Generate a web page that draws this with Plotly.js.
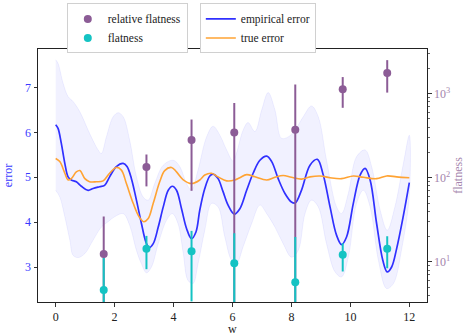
<!DOCTYPE html>
<html>
<head>
<meta charset="utf-8">
<script src="https://cdn.plot.ly/plotly-3.0.1.min.js"></script>
<style>html,body{margin:0;padding:0;background:#fff;}#chart{width:465px;height:334px;}</style>
</head>
<body>
<div id="chart"></div>
<script>
// empirical error (blue line)
const empX = [0, 0.08, 0.19, 0.31, 0.42, 0.53, 0.70, 0.87, 1.10, 1.27, 1.49, 1.66, 1.83, 2.06, 2.29, 2.42, 2.57, 2.74, 2.91, 3.06, 3.17, 3.31, 3.48, 3.65, 3.82, 3.96, 4.10, 4.27, 4.44, 4.61, 4.76, 4.89, 5.06, 5.23, 5.34, 5.51, 5.68, 5.85, 6.06, 6.25, 6.48, 6.70, 6.93, 7.16, 7.33, 7.55, 7.78, 8.00, 8.13, 8.34, 8.63, 8.88, 9.08, 9.31, 9.53, 9.70, 9.87, 10.10, 10.33, 10.50, 10.67, 10.89, 11.10, 11.25, 11.40, 11.57, 11.80, 12.0];
const empY = [6.17, 6.09, 5.76, 5.31, 5.01, 4.94, 4.90, 4.80, 4.71, 4.75, 4.79, 4.82, 5.01, 5.24, 5.31, 5.24, 4.97, 4.49, 3.97, 3.56, 3.43, 3.52, 3.89, 4.34, 4.71, 4.80, 4.71, 4.30, 3.86, 3.63, 3.78, 4.27, 4.75, 5.03, 5.07, 4.97, 4.68, 4.38, 4.18, 4.30, 4.71, 5.09, 5.38, 5.47, 5.35, 4.97, 4.64, 4.45, 4.43, 4.71, 5.27, 5.40, 5.05, 4.34, 3.71, 3.50, 3.67, 4.42, 5.05, 5.20, 4.94, 3.97, 3.15, 2.89, 3.00, 3.41, 4.15, 4.88];

// true error (orange line)
const trueX = [0, 0.14, 0.31, 0.42, 0.53, 0.70, 0.82, 0.99, 1.15, 1.38, 1.61, 1.83, 2.06, 2.23, 2.40, 2.63, 2.83, 2.99, 3.14, 3.31, 3.53, 3.70, 3.93, 4.10, 4.32, 4.61, 4.89, 5.06, 5.29, 5.51, 5.80, 6.08, 6.25, 6.48, 6.76, 7.16, 7.44, 7.72, 8.00, 8.34, 8.63, 8.97, 9.31, 9.70, 10.10, 10.44, 10.89, 11.23, 11.57, 12.0];
const trueY = [5.42, 5.35, 5.09, 4.94, 4.97, 5.12, 5.15, 4.97, 4.90, 4.90, 4.92, 5.09, 5.22, 5.16, 4.86, 4.42, 4.12, 4.01, 4.08, 4.42, 4.90, 5.15, 5.22, 5.12, 4.95, 4.86, 4.94, 5.05, 5.09, 5.01, 4.92, 4.94, 4.99, 5.06, 5.01, 4.94, 5.00, 5.04, 5.00, 4.96, 5.01, 5.03, 4.99, 4.97, 5.03, 5.00, 4.97, 5.03, 5.01, 4.99];

// shaded band around empirical error
const bandUpX = [0.0, 0.08, 0.25, 0.42, 0.59, 0.82, 1.15, 1.44, 1.55, 1.72, 1.95, 2.12, 2.29, 2.51, 2.74, 2.97, 3.14, 3.36, 3.65, 3.99, 4.21, 4.44, 4.61, 4.83, 5.12, 5.34, 5.57, 5.80, 6.02, 6.14, 6.36, 6.53, 6.76, 6.99, 7.21, 7.44, 7.66, 7.89, 8.12, 8.40, 8.68, 8.91, 9.19, 9.53, 9.70, 9.93, 10.21, 10.50, 10.72, 11.01, 11.25, 11.51, 11.80, 12.0];
const bandUpY = [7.62, 7.54, 7.10, 6.80, 6.69, 6.46, 5.98, 5.61, 5.53, 5.90, 6.35, 6.44, 6.35, 5.83, 5.01, 4.56, 4.49, 4.86, 5.27, 5.38, 5.24, 4.86, 4.71, 5.16, 5.90, 6.14, 5.94, 5.61, 5.36, 5.55, 6.05, 6.22, 6.02, 6.50, 6.89, 6.50, 5.87, 5.90, 6.05, 6.35, 6.59, 6.35, 5.38, 4.34, 4.19, 4.64, 5.46, 5.61, 5.24, 4.27, 3.82, 4.34, 5.31, 5.94];
const bandLoX = [0.0, 0.14, 0.31, 0.48, 0.59, 0.76, 0.99, 1.27, 1.55, 1.78, 2.00, 2.29, 2.51, 2.74, 2.91, 3.08, 3.25, 3.48, 3.76, 3.96, 4.15, 4.33, 4.49, 4.66, 4.83, 5.06, 5.29, 5.51, 5.74, 5.97, 6.14, 6.36, 6.65, 6.93, 7.16, 7.44, 7.72, 8.00, 8.23, 8.46, 8.68, 8.91, 9.19, 9.48, 9.70, 9.93, 10.21, 10.44, 10.67, 10.95, 11.23, 11.46, 11.74, 12.0];
const bandLoY = [4.71, 4.56, 4.12, 3.60, 3.26, 3.21, 3.30, 3.60, 3.89, 4.01, 4.12, 4.19, 3.93, 3.37, 3.07, 2.87, 3.00, 3.52, 4.04, 4.19, 3.97, 3.30, 2.70, 2.63, 3.07, 3.82, 4.42, 4.34, 3.67, 3.15, 3.08, 3.45, 3.97, 4.38, 4.19, 3.89, 3.52, 3.22, 3.37, 4.19, 4.49, 4.34, 3.52, 2.89, 2.78, 3.22, 4.42, 4.71, 4.34, 3.15, 2.52, 2.63, 3.40, 4.60];

// flatness measures (right, log axis)
const flatX = [1.63, 3.08, 4.61, 6.06, 8.13, 9.74, 11.25];
const relFlat = [12.4, 134, 281, 346, 373, 1125, 1763];
const relFlatErr = [22.2, 55, 211, 428, 907, 447, 735];
const flat = [4.65, 14.3, 13.4, 9.66, 5.72, 12.2, 14.3];
const flatErr = [6.5, 6.1, 10, 12.3, 14, 4.5, 5.9];

const xTicks = [0, 2, 4, 6, 8, 10, 12];
const yTicks = [3, 4, 5, 6, 7];
const y2Ticks = [10, 100, 1000];
const y2TickText = ['10<sup>1</sup>', '10<sup>2</sup>', '10<sup>3</sup>'];
const y2Minor = [4,5,6,7,8,9,20,30,40,50,60,70,80,90,200,300,400,500,600,700,800,900,2000,3000];

const FONT = 'Liberation Serif';
const BLUE = '#3030ff';
const ORANGE = '#ffa333';
const PURPLE = '#8c5c96';
const CYAN = '#14c3c3';

const traces = [
  {
    x: bandUpX.concat(bandLoX.slice().reverse()),
    y: bandUpY.concat(bandLoY.slice().reverse()),
    mode: 'lines', fill: 'toself',
    fillcolor: 'rgba(0,0,255,0.055)',
    line: {color: 'rgba(0,0,255,0.06)', width: 1, shape: 'spline'},
    showlegend: false, hoverinfo: 'skip', xaxis: 'x', yaxis: 'y'
  },
  {
    x: empX, y: empY, mode: 'lines', name: 'empirical error',
    line: {color: BLUE, width: 1.7, shape: 'spline'}, legend: 'legend2', xaxis: 'x', yaxis: 'y'
  },
  {
    x: trueX, y: trueY, mode: 'lines', name: 'true error',
    line: {color: ORANGE, width: 1.6, shape: 'spline'}, legend: 'legend2', xaxis: 'x', yaxis: 'y'
  },
  {
    x: flatX, y: relFlat, mode: 'markers', name: 'relative flatness',
    marker: {color: PURPLE, size: 8},
    error_y: {type: 'data', array: relFlatErr, color: PURPLE, thickness: 2, width: 0},
    legend: 'legend', xaxis: 'x', yaxis: 'y2'
  },
  {
    x: flatX, y: flat, mode: 'markers', name: 'flatness',
    marker: {color: CYAN, size: 8},
    error_y: {type: 'data', array: flatErr, color: CYAN, thickness: 2, width: 0},
    legend: 'legend', xaxis: 'x', yaxis: 'y2'
  }
];

const layout = {
  width: 465, height: 334,
  margin: {l: 38, r: 38, t: 49, b: 32, autoexpand: false},
  paper_bgcolor: '#fff', plot_bgcolor: '#fff',
  font: {family: FONT, size: 12, color: '#222'},
  xaxis: {
    range: [-0.6, 12.6], tickvals: xTicks, ticks: 'outside', ticklen: 3.5, tickwidth: 0.8,
    tickcolor: '#000', showline: true, linecolor: '#222', linewidth: 1, mirror: true,
    showgrid: false, zeroline: false, tickfont: {size: 12, family: FONT, color: '#222'}
  },
  yaxis: {
    range: [2.22, 7.86], tickvals: yTicks, ticks: 'outside', ticklen: 3.5, tickwidth: 0.8,
    tickcolor: '#000', showline: true, linecolor: '#222', linewidth: 1,
    showgrid: false, zeroline: false, tickfont: {size: 12, family: FONT, color: '#3a3aff'},
    title: {text: 'error', font: {size: 12, family: FONT, color: '#3a3aff'}, standoff: 9}
  },
  yaxis2: {
    type: 'log', range: [0.524, 3.53], overlaying: 'y', side: 'right',
    tickmode: 'array', tickvals: y2Ticks, ticktext: y2TickText,
    ticks: 'outside', ticklen: 3.5, tickwidth: 0.8, tickcolor: '#000',
    minor: {tickmode: 'array', tickvals: y2Minor, ticks: 'outside', ticklen: 2, tickwidth: 0.6, tickcolor: '#000', showgrid: false},
    showline: true, linecolor: '#222', linewidth: 1,
    showgrid: false, zeroline: false, tickfont: {size: 12, family: FONT, color: '#a585ad'},
    title: {text: 'flatness', font: {size: 12, family: FONT, color: '#a585ad'}, standoff: 6}
  },
  annotations: [{
    text: 'w', xref: 'paper', yref: 'paper', x: 0.5, y: -0.106,
    xanchor: 'center', yanchor: 'middle', showarrow: false,
    font: {size: 12, family: FONT, color: '#222'}
  }],
  legend: {
    x: 0.074, y: 1.18, xanchor: 'left', yanchor: 'top',
    bgcolor: '#fff', bordercolor: '#d0d0d0', borderwidth: 1,
    font: {size: 11.5, family: FONT, color: '#222'}, tracegroupgap: 0
  },
  legend2: {
    x: 0.416, y: 1.18, xanchor: 'left', yanchor: 'top',
    bgcolor: '#fff', bordercolor: '#d0d0d0', borderwidth: 1,
    font: {size: 11.5, family: FONT, color: '#222'}, tracegroupgap: 0
  },
  showlegend: true
};

Plotly.newPlot('chart', traces, layout, {staticPlot: true, displayModeBar: false});
</script>
</body>
</html>
